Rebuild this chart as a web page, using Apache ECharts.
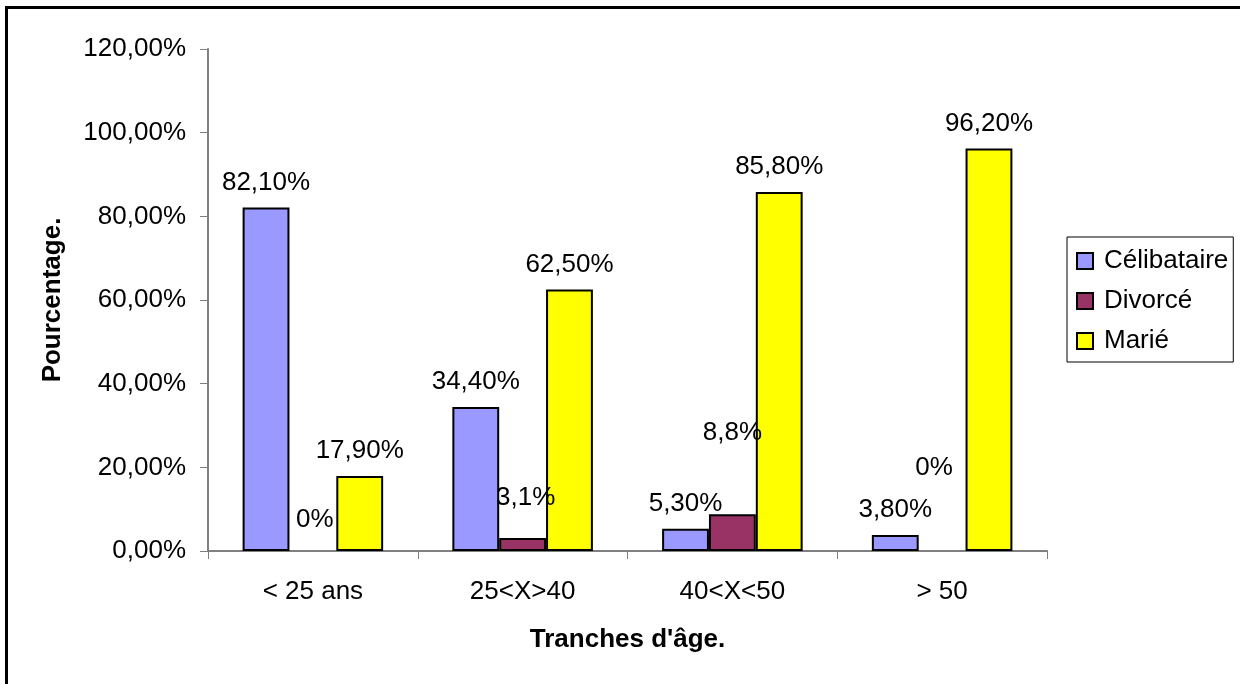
<!DOCTYPE html>
<html>
<head>
<meta charset="utf-8">
<script src="https://cdn.jsdelivr.net/npm/echarts@6/dist/echarts.min.js"></script>
<style>
html,body{margin:0;padding:0;background:#fff;}
#chart{width:1240px;height:684px;}
</style>
</head>
<body>
<div id="chart"></div>
<script>
const categories = ['< 25 ans', '25<X>40', '40<X<50', '> 50'];
const seriesNames = ['Célibataire', 'Divorcé', 'Marié'];
const celibataire = [82.1, 34.4, 5.3, 3.8];
const divorce = [0, 3.1, 8.8, 0];
const marie = [17.9, 62.5, 85.8, 96.2];
const celibataireLabels = ['82,10%', '34,40%', '5,30%', '3,80%'];
const divorceLabels = ['0%', '3,1%', '8,8%', '0%'];
const marieLabels = ['17,90%', '62,50%', '85,80%', '96,20%'];
const yTickLabels = ['0,00%', '20,00%', '40,00%', '60,00%', '80,00%', '100,00%', '120,00%'];

// label placement tweaks (styling only)
const divorceLabelOffsets = [[2, -6], [3, -15], [0, -56], [-8, -58]];

const FONT = '"Liberation Sans", Arial, sans-serif';
const colors = ['#9999FF', '#993366', '#FFFF00'];

function makeSeries(name, values, labels, color, offsets) {
  return {
    name: name,
    type: 'bar',
    barGap: '0%',
    barCategoryGap: '33%',
    itemStyle: { color: color, borderColor: '#000', borderWidth: 2 },
    label: {
      show: true,
      position: 'top',
      distance: 12,
      color: '#000',
      fontFamily: FONT,
      fontSize: 26,
      formatter: function (p) { return labels[p.dataIndex]; }
    },
    data: values.map(function (v, i) {
      const d = { value: v };
      if (offsets) d.label = { offset: offsets[i] };
      if (v === 0) d.itemStyle = { borderWidth: 0 };
      return d;
    })
  };
}

const chart = echarts.init(document.getElementById('chart'), null, { renderer: 'canvas' });
chart.setOption({
  animation: false,
  backgroundColor: '#fff',
  textStyle: { fontFamily: FONT },
  graphic: [{
    type: 'rect',
    shape: { x: 6.5, y: 7.5, width: 1400, height: 900 },
    style: { fill: 'none', stroke: '#000', lineWidth: 3 },
    silent: true,
    z: 100
  }],
  grid: { left: 208, right: 193, top: 49, bottom: 133, containLabel: false },
  legend: {
    orient: 'vertical',
    left: 1067,
    top: 237,
    padding: [11, 5, 8, 9],
    itemGap: 14,
    itemWidth: 16,
    itemHeight: 16,
    icon: 'rect',
    borderColor: '#000',
    borderWidth: 1,
    backgroundColor: '#fff',
    textStyle: { fontFamily: FONT, fontSize: 26, color: '#000', padding: [0, 0, 0, 6] },
    data: seriesNames
  },
  xAxis: {
    type: 'category',
    data: categories,
    name: "Tranches d'âge.",
    nameLocation: 'middle',
    nameGap: 76,
    nameTextStyle: { fontFamily: FONT, fontSize: 26, fontWeight: 'bold', color: '#000' },
    axisLine: { lineStyle: { color: '#808080', width: 2 } },
    axisTick: { show: true, length: 8, lineStyle: { color: '#808080', width: 1 } },
    axisLabel: { margin: 28, fontFamily: FONT, fontSize: 26, color: '#000' },
    splitLine: { show: false }
  },
  yAxis: {
    type: 'value',
    min: 0,
    max: 120,
    interval: 20,
    name: 'Pourcentage.',
    nameLocation: 'middle',
    nameGap: 142,
    nameRotate: 90,
    nameTextStyle: { fontFamily: FONT, fontSize: 26, fontWeight: 'bold', color: '#000' },
    axisLine: { show: true, lineStyle: { color: '#808080', width: 2 } },
    axisTick: { show: true, length: 8, lineStyle: { color: '#808080', width: 1 } },
    axisLabel: {
      margin: 22,
      fontFamily: FONT,
      fontSize: 26,
      color: '#000',
      formatter: function (v) { return yTickLabels[Math.round(v / 20)]; }
    },
    splitLine: { show: false }
  },
  series: [
    makeSeries(seriesNames[0], celibataire, celibataireLabels, colors[0]),
    makeSeries(seriesNames[1], divorce, divorceLabels, colors[1], divorceLabelOffsets),
    makeSeries(seriesNames[2], marie, marieLabels, colors[2])
  ]
});
</script>
</body>
</html>
